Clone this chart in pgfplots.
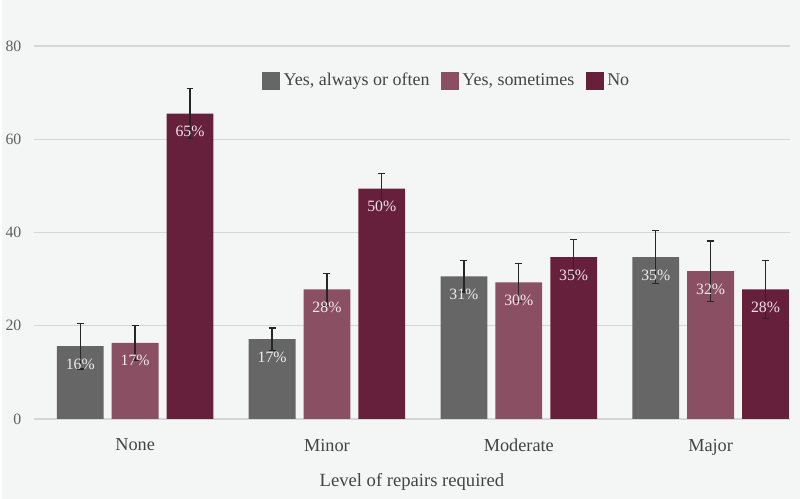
\documentclass[border=0pt]{standalone}
\usepackage{pgfplots}
\pgfplotsset{compat=1.18}
\usepackage{pgfplotstable}
\usepackage{fontspec}
\setmainfont{Liberation Serif}
\definecolor{bgc}{HTML}{F3F6F5}
\definecolor{gridc}{HTML}{D3D7D6}
\definecolor{cA}{HTML}{666666}
\definecolor{cB}{HTML}{8A4F62}
\definecolor{cC}{HTML}{67203B}
\definecolor{txt}{HTML}{444444}

\pgfplotstableread{
x y e lab
0 15.6 4.9 16
1 17.1 2.4 17
2 30.6 3.4 31
3 34.7 5.7 35
}\tA
\pgfplotstableread{
x y e lab
0 16.3 3.7 17
1 27.8 3.4 28
2 29.3 4.1 30
3 31.7 6.5 32
}\tB
\pgfplotstableread{
x y e lab
0 65.5 5.3 65
1 49.4 3.2 50
2 34.7 3.8 35
3 27.8 6.2 28
}\tC

\begin{document}
\begin{tikzpicture}
\fill[bgc] (0,0) rectangle (480pt,300pt);
\begin{axis}[
  at={(19.2pt,48pt)}, anchor=south west,
  scale only axis, width=454.8pt, height=224.4pt,
  xmin=-0.528, xmax=3.414, ymin=0, ymax=80,
  ytick={0,20,40,60,80},
  xtick={0,1,2,3}, xticklabels={None,Minor,Moderate,Major},
  /pgf/number format/assume math mode=true,
  axis line style={draw=none},
  major tick length=0pt,
  ymajorgrids, grid style={gridc, line width=0.8pt},
  yticklabel style={font=\fontsize{9.5pt}{11pt}\selectfont, text=txt!85!white, xshift=-4pt},
  xticklabel style={font=\fontsize{11pt}{13pt}\selectfont, text=txt, yshift=-8.5pt},
  xlabel={Level of repairs required},
  xlabel style={at={(axis description cs:0.5,0)}, anchor=center, yshift=-38pt, font=\fontsize{11.2pt}{13pt}\selectfont, text=txt},
  bar width=0.244,
  legend columns=3,
  legend style={at={(rel axis cs:0.547,0.907)}, anchor=center, draw=none, fill=none,
    font=\fontsize{10.8pt}{13pt}\selectfont, text=txt,
    /tikz/every even column/.append style={column sep=5pt}},
  legend image code/.code={\fill[#1] (0pt,-5.4pt) rectangle (10.8pt,5.4pt);},
  point meta=explicit symbolic,
  nodes near coords={\pgfplotspointmeta\%},
  every node near coord/.append style={anchor=north, yshift=-4pt, text=white, text opacity=0.88, font=\fontsize{9.5pt}{11pt}\selectfont},
  error bars/y dir=both, error bars/y explicit,
  error bars/error bar style={line width=0.8pt, color=black!85},
  error bars/error mark options={rotate=90, mark size=2.1pt, line width=0.8pt, black!85},
]
\addplot[ybar, bar shift=0, fill=cA, draw=none] table[x expr=\thisrow{x}-0.286, y=y, y error=e, meta=lab]{\tA};
\addlegendentry{Yes, always or often}
\addplot[ybar, bar shift=0, fill=cB, draw=none] table[x=x, y=y, y error=e, meta=lab]{\tB};
\addlegendentry{Yes, sometimes}
\addplot[ybar, bar shift=0, fill=cC, draw=none] table[x expr=\thisrow{x}+0.286, y=y, y error=e, meta=lab]{\tC};
\addlegendentry{No}
\end{axis}
\end{tikzpicture}
\end{document}
